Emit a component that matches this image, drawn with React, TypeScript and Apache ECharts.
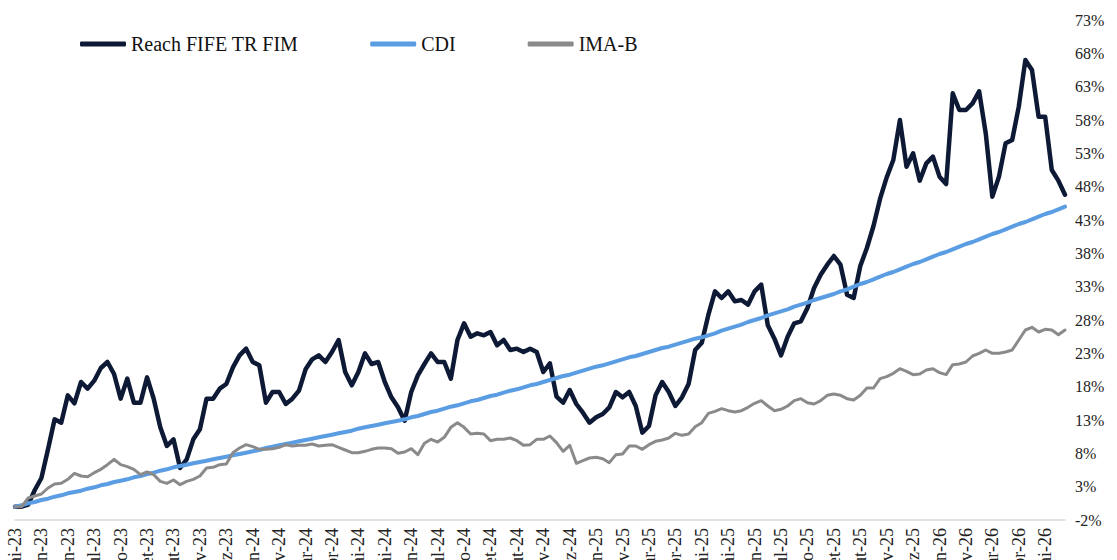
import React, { useEffect, useRef } from "react";
import * as echarts from "echarts";

const seriesNames = ["Reach FIFE TR FIM", "CDI", "IMA-B"];

const tickLabels = [
  "mai-23", "jun-23", "jun-23", "jul-23", "ago-23", "set-23", "out-23", "nov-23", "dez-23",
  "jan-24", "fev-24", "mar-24", "abr-24", "mai-24", "mai-24", "jun-24", "jul-24", "ago-24", "set-24", "out-24", "nov-24", "dez-24",
  "jan-25", "fev-25", "mar-25", "abr-25", "mai-25", "mai-25", "jun-25", "jul-25", "ago-25", "set-25", "out-25", "nov-25", "dez-25",
  "jan-26", "fev-26", "mar-26", "abr-26", "mai-26",
];

const reach = [
  0.0, 0.0, 0.3, 2.5, 4.3, 8.6, 13.1, 12.6, 16.7, 15.5,
  18.7, 17.7, 18.9, 20.8, 21.7, 19.9, 16.2, 19.2, 15.6, 15.6,
  19.4, 16.2, 11.9, 9.1, 10.1, 5.8, 7.1, 10.1, 11.6, 16.2,
  16.2, 17.7, 18.4, 20.9, 22.7, 23.7, 21.7, 21.2, 15.6, 17.2,
  17.2, 15.4, 16.2, 17.4, 20.6, 22.1, 22.7, 21.7, 23.2, 25.0,
  20.2, 18.2, 20.2, 23.0, 21.4, 21.7, 18.7, 16.4, 14.9, 12.9,
  17.2, 19.7, 21.4, 23.0, 21.7, 21.7, 19.2, 25.0, 27.5, 25.5,
  26.0, 25.7, 26.2, 24.2, 25.0, 23.5, 23.7, 23.2, 23.7, 23.2,
  20.2, 21.5, 16.5, 15.6, 17.5, 15.4, 14.1, 12.6, 13.4, 13.9,
  14.9, 17.2, 16.4, 17.2, 15.1, 11.1, 12.1, 16.7, 18.7, 17.2,
  15.1, 16.4, 18.4, 23.5, 24.6, 28.8, 32.3, 31.3, 32.3, 30.8,
  31.0, 30.3, 32.3, 33.3, 27.2, 25.2, 22.7, 25.5, 27.5, 27.8,
  29.8, 32.8, 34.8, 36.3, 37.6, 36.3, 31.8, 31.3, 36.1, 38.8,
  42.1, 46.2, 49.4, 52.0, 58.0, 51.0, 53.0, 48.9, 51.5, 52.5,
  49.5, 48.4, 62.0, 59.5, 59.5, 60.5, 62.3, 56.0, 46.5, 49.5,
  54.5, 55.0, 60.0, 67.0, 65.5, 58.5, 58.5, 50.5, 48.9, 46.8,
];

const cdi = [
  0.0, 0.2, 0.5, 0.7, 1.0, 1.2, 1.5, 1.7, 2.0, 2.2,
  2.4, 2.7, 2.9, 3.2, 3.4, 3.7, 3.9, 4.1, 4.4, 4.6,
  4.9, 5.1, 5.4, 5.6, 5.9, 6.1, 6.3, 6.5, 6.7, 6.9,
  7.1, 7.3, 7.5, 7.7, 7.9, 8.1, 8.3, 8.5, 8.8, 9.0,
  9.2, 9.4, 9.6, 9.8, 10.0, 10.2, 10.4, 10.6, 10.8, 11.0,
  11.2, 11.4, 11.7, 11.9, 12.1, 12.3, 12.5, 12.7, 12.9, 13.1,
  13.4, 13.6, 13.9, 14.2, 14.4, 14.7, 15.0, 15.2, 15.5, 15.8,
  16.0, 16.3, 16.6, 16.8, 17.1, 17.4, 17.6, 17.9, 18.2, 18.4,
  18.7, 19.0, 19.3, 19.6, 19.8, 20.1, 20.4, 20.7, 21.0, 21.2,
  21.5, 21.8, 22.1, 22.4, 22.6, 22.9, 23.2, 23.5, 23.8, 24.0,
  24.3, 24.6, 24.9, 25.2, 25.4, 25.7, 26.0, 26.4, 26.7, 27.0,
  27.3, 27.7, 28.0, 28.3, 28.7, 29.0, 29.3, 29.6, 30.0, 30.3,
  30.6, 31.0, 31.3, 31.6, 31.9, 32.3, 32.6, 33.0, 33.4, 33.7,
  34.1, 34.5, 34.9, 35.2, 35.6, 36.0, 36.4, 36.7, 37.1, 37.5,
  37.9, 38.2, 38.6, 39.0, 39.4, 39.7, 40.1, 40.5, 40.9, 41.2,
  41.6, 42.0, 42.4, 42.7, 43.1, 43.5, 43.9, 44.2, 44.6, 45.0,
];

const imab = [
  0.0, 0.0, 1.3, 1.6, 1.9, 2.8, 3.4, 3.5, 4.1, 5.0,
  4.6, 4.5, 5.1, 5.6, 6.3, 7.1, 6.3, 6.0, 5.6, 4.8,
  5.2, 4.8, 3.8, 3.5, 4.0, 3.3, 3.8, 4.1, 4.6, 5.8,
  5.9, 6.3, 6.4, 8.1, 8.8, 9.3, 9.0, 8.6, 8.6, 8.7,
  8.9, 9.3, 9.1, 9.2, 9.2, 9.4, 9.1, 9.2, 9.3, 8.9,
  8.5, 8.1, 8.1, 8.3, 8.6, 8.8, 8.8, 8.7, 8.0, 8.2,
  8.7, 7.8, 9.5, 10.1, 9.7, 10.4, 11.9, 12.6, 11.9, 10.9,
  11.0, 10.9, 9.9, 10.1, 10.1, 10.3, 9.9, 9.2, 9.3, 10.1,
  10.1, 10.6, 9.6, 8.3, 9.2, 6.5, 6.9, 7.3, 7.4, 7.2,
  6.6, 7.8, 7.9, 9.1, 9.1, 8.6, 9.3, 9.8, 10.0, 10.3,
  11.0, 10.7, 10.9, 12.0, 12.6, 14.0, 14.3, 14.7, 14.4, 14.2,
  14.4, 14.9, 15.5, 15.9, 15.1, 14.4, 14.6, 15.1, 15.9, 16.2,
  15.6, 15.4, 15.9, 16.7, 16.9, 16.7, 16.2, 16.0, 16.7, 17.8,
  17.8, 19.2, 19.5, 20.0, 20.7, 20.3, 19.8, 19.9, 20.5, 20.7,
  20.1, 19.8, 21.3, 21.4, 21.7, 22.6, 23.0, 23.5, 23.0, 23.0,
  23.2, 23.5, 25.0, 26.5, 26.9, 26.2, 26.6, 26.5, 25.8, 26.5,
];

const colors = ["#0e1a35", "#5b9de3", "#8a8a8a"];
const widths = [4.5, 4, 3];
const FONT = "Liberation Serif, DejaVu Serif, serif";

export default function App() {
  const ref = useRef<HTMLDivElement>(null);

  useEffect(() => {
    if (!ref.current) return;
    const chart = echarts.init(ref.current, undefined, { renderer: "svg" });
    const categories = reach.map((_, i) => String(i));
    const values = [reach, cdi, imab];
    chart.setOption({
      animation: false,
      backgroundColor: "#ffffff",
      textStyle: { fontFamily: FONT },
      legend: {
        left: 75,
        top: 29,
        itemGap: 72,
        itemWidth: 46,
        itemHeight: 5,
        icon: "roundRect",
        textStyle: { fontFamily: FONT, fontSize: 20, color: "#111111" },
        data: seriesNames,
      },
      grid: {
        left: 15,
        right: 52,
        top: 20,
        bottom: 40,
        containLabel: false,
        outerBoundsMode: "none",
      },
      xAxis: {
        type: "category",
        data: categories,
        boundaryGap: false,
        axisLine: { show: true, onZero: false, lineStyle: { color: "#d9d9d9", width: 1.5 } },
        axisTick: { show: false },
        axisLabel: {
          interval: 3,
          rotate: 90,
          margin: 8,
          fontFamily: FONT,
          fontSize: 18,
          color: "#222222",
          formatter: (_v: string, idx: number) => tickLabels[Math.round(idx / 4)] ?? "",
        },
        splitLine: { show: false },
      },
      yAxis: {
        type: "value",
        position: "right",
        min: -2,
        max: 73,
        interval: 5,
        axisLine: { show: false },
        axisTick: { show: false },
        splitLine: { show: false },
        axisLabel: {
          margin: 10,
          fontFamily: FONT,
          fontSize: 16,
          color: "#222222",
          formatter: (v: number) => `${v}%`,
        },
      },
      series: seriesNames.map((name, k) => ({
        name,
        type: "line",
        data: values[k],
        showSymbol: false,
        symbol: "none",
        color: colors[k],
        lineStyle: { color: colors[k], width: widths[k], cap: "round", join: "round" },
        itemStyle: { color: colors[k] },
        z: 2 + k,
      })),
    });
    return () => chart.dispose();
  }, []);

  return (
    <div
      ref={ref}
      style={{ position: "fixed", left: 0, top: 0, width: 1117, height: 560, background: "#fff" }}
    />
  );
}
